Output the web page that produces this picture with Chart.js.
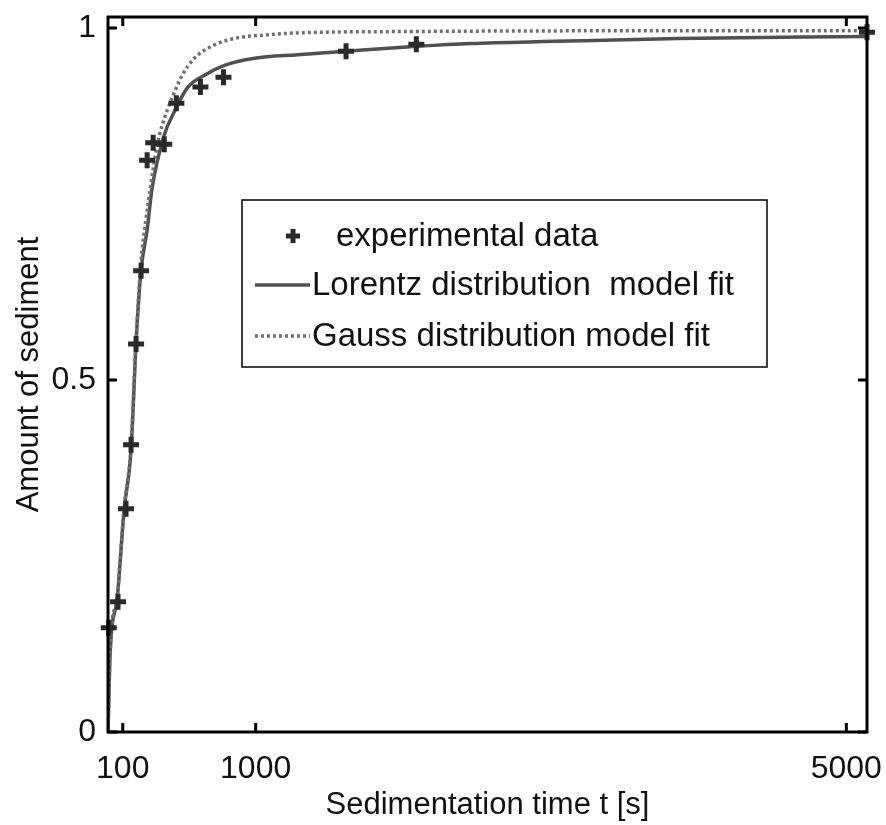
<!DOCTYPE html>
<html><head><meta charset="utf-8">
<script src="https://cdn.jsdelivr.net/npm/chart.js@4.4.1/dist/chart.umd.min.js"></script>
<style>html,body{margin:0;padding:0;background:#fff}#wrap{width:886px;height:825px}</style>
</head><body><div id="wrap"><canvas id="c" width="886" height="825"></canvas></div>
<script>
// ---- data ----
const xTickValues = [100, 1000, 5000];
const yTickValues = [0, 0.5, 1];

const expT = [5, 68, 122, 156, 190, 224, 265, 306, 381, 463, 626, 782, 1612, 2088, 5140];
const expY = [0.148, 0.185, 0.317, 0.408, 0.551, 0.655, 0.812, 0.837, 0.835, 0.893, 0.916, 0.930, 0.967, 0.977, 0.994];

const lorentzT = [0, 6, 12, 27, 61, 109, 156, 190, 224, 265, 299, 381, 449, 537, 653, 789, 993, 1285, 1612, 2095, 2455, 3020, 3860, 5140];
const lorentzY = [0, 0.05, 0.10, 0.149, 0.1875, 0.315, 0.40, 0.553, 0.656, 0.713, 0.773, 0.848, 0.881, 0.915, 0.933, 0.947, 0.957, 0.962, 0.967, 0.974, 0.978, 0.981, 0.985, 0.988];

const gaussT = [0, 6, 12, 27, 61, 109, 156, 190, 222, 255, 292, 330, 367, 435, 503, 585, 721, 878, 1061, 1285, 2070, 3750, 5140];
const gaussY = [0, 0.05, 0.10, 0.155, 0.19, 0.318, 0.405, 0.555, 0.665, 0.725, 0.78, 0.83, 0.862, 0.901, 0.933, 0.957, 0.976, 0.986, 0.990, 0.993, 0.995, 0.996, 0.996];

const seriesLabels = ['experimental data', 'Lorentz distribution  model fit', 'Gauss distribution model fit'];
const xTitle = 'Sedimentation time t [s]';
const yTitle = 'Amount of sediment';

const pts = (xs, ys) => xs.map((x, i) => ({x: x, y: ys[i]}));
const FONT = '"Liberation Sans", Arial, sans-serif';

const framePlugin = {
  id: 'frame',
  afterDraw(chart) {
    const {ctx, chartArea: a, scales: {x, y}} = chart;
    ctx.save();
    ctx.strokeStyle = '#000';
    ctx.lineWidth = 3;
    ctx.strokeRect(a.left, a.top, a.right - a.left, a.bottom - a.top);
    const L = 9;
    ctx.beginPath();
    xTickValues.forEach(v => {
      const px = x.getPixelForValue(v);
      ctx.moveTo(px, a.bottom); ctx.lineTo(px, a.bottom - L);
      ctx.moveTo(px, a.top); ctx.lineTo(px, a.top + L);
    });
    yTickValues.forEach(v => {
      const py = y.getPixelForValue(v);
      ctx.moveTo(a.left, py); ctx.lineTo(a.left + L, py);
      ctx.moveTo(a.right, py); ctx.lineTo(a.right - L, py);
    });
    ctx.stroke();
    ctx.restore();
  }
};

const legendPlugin = {
  id: 'boxLegend',
  afterDraw(chart, args, opts) {
    const ctx = chart.ctx;
    const b = opts.box;
    ctx.save();
    ctx.fillStyle = '#fff';
    ctx.fillRect(b.x, b.y, b.w, b.h);
    ctx.strokeStyle = '#000';
    ctx.lineWidth = 1.5;
    ctx.strokeRect(b.x, b.y, b.w, b.h);
    ctx.font = opts.font;
    ctx.fillStyle = '#111';
    ctx.textBaseline = 'middle';
    ctx.textAlign = 'left';
    chart.data.datasets.forEach((ds, i) => {
      const ry = opts.rows[i];
      if (ds.showLine === false) {
        const cx = opts.markerX, r = 7;
        ctx.strokeStyle = ds.borderColor;
        ctx.lineWidth = 5;
        ctx.setLineDash([]);
        ctx.beginPath();
        ctx.moveTo(cx - r, ry); ctx.lineTo(cx + r, ry);
        ctx.moveTo(cx, ry - r); ctx.lineTo(cx, ry + r);
        ctx.stroke();
        ctx.fillText(ds.label, opts.textX0, ry + 1);
      } else {
        ctx.strokeStyle = ds.borderColor;
        ctx.lineWidth = ds.borderWidth;
        ctx.setLineDash(ds.borderDash || []);
        ctx.beginPath();
        ctx.moveTo(opts.lineX0, ry); ctx.lineTo(opts.lineX1, ry);
        ctx.stroke();
        ctx.setLineDash([]);
        ctx.fillText(ds.label, opts.textX1, ry + 1);
      }
    });
    ctx.restore();
  }
};

new Chart(document.getElementById('c'), {
  type: 'line',
  data: {
    datasets: [
      {
        label: seriesLabels[0], data: pts(expT, expY), showLine: false,
        pointStyle: 'cross', pointRadius: 8, pointBorderWidth: 5,
        borderColor: '#2a2a2a', backgroundColor: '#2a2a2a',
        pointBorderColor: '#2a2a2a', clip: false, order: 0
      },
      {
        label: seriesLabels[1], data: pts(lorentzT, lorentzY),
        borderColor: '#505050', borderWidth: 3.5, pointRadius: 0,
        cubicInterpolationMode: 'monotone', fill: false, order: 2
      },
      {
        label: seriesLabels[2], data: pts(gaussT, gaussY),
        borderColor: '#707070', borderWidth: 3.5, borderDash: [3, 3], pointRadius: 0,
        cubicInterpolationMode: 'monotone', fill: false, order: 1
      }
    ]
  },
  options: {
    responsive: false, animation: false, devicePixelRatio: 1,
    layout: {padding: {top: 17, right: 19, left: 0, bottom: 0}},
    plugins: {
      legend: {display: false}, tooltip: {enabled: false},
      boxLegend: {
        box: {x: 242, y: 200, w: 525, h: 167},
        rows: [236, 285, 336], markerX: 293, textX0: 336,
        lineX0: 255, lineX1: 310, textX1: 312,
        font: '33px ' + FONT
      }
    },
    scales: {
      x: {
        type: 'linear', min: 0, max: 5140, position: 'bottom',
        afterBuildTicks: s => { s.ticks = xTickValues.map(v => ({value: v})); },
        afterFit: s => { s.height = 93; s.paddingLeft = 0; s.paddingRight = 0; },
        grid: {display: false, drawTicks: false},
        border: {display: false},
        ticks: {font: {family: FONT, size: 32}, color: '#111', padding: 18, maxRotation: 0, autoSkip: false,
                callback: v => String(v)},
        title: {display: true, text: xTitle, font: {family: FONT, size: 31}, color: '#111', padding: {top: 0, bottom: 1}}
      },
      y: {
        type: 'linear', min: 0, max: 1.0156,
        afterBuildTicks: s => { s.ticks = yTickValues.map(v => ({value: v})); },
        afterFit: s => { s.width = 108; s.paddingTop = 0; s.paddingBottom = 0; },
        grid: {display: false, drawTicks: false},
        border: {display: false},
        ticks: {font: {family: FONT, size: 32}, color: '#111', padding: 12,
                callback: v => String(v)},
        title: {display: true, text: yTitle, font: {family: FONT, size: 31}, color: '#111', padding: {top: 11, bottom: 0}}
      }
    }
  },
  plugins: [framePlugin, legendPlugin]
});
</script>
</body></html>
